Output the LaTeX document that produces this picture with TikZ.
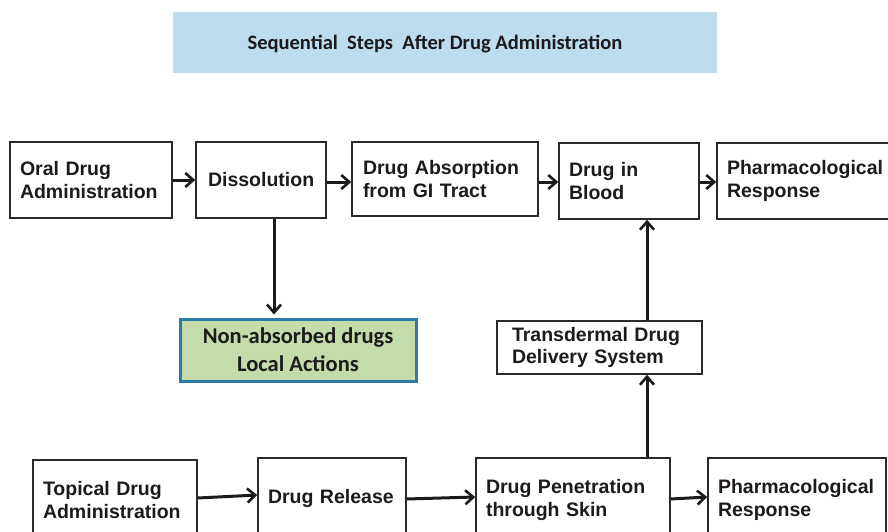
\documentclass[tikz,border=0pt]{standalone}
\usepackage{fontspec}
\setmainfont{Liberation Sans}
\newfontfamily\titlefont{Carlito}
\usetikzlibrary{arrows.meta}
\definecolor{ink}{HTML}{1E1A1B}
\definecolor{edge}{HTML}{2A2A2A}
\definecolor{titlebg}{HTML}{BCDDF0}
\definecolor{greenbg}{HTML}{C3DCA9}
\definecolor{greenedge}{HTML}{2B7BA3}
\begin{document}
\begin{tikzpicture}[x=1pt,y=-1pt,
  box/.style={draw=edge, line width=1.5pt, fill=white, text=ink,
    font=\bfseries\fontsize{19.5}{22.5}\selectfont, align=left, inner sep=0pt},
  titlebox/.style={fill=titlebg, inner sep=0pt},
  titletext/.style={text=ink, inner sep=0pt,
    font=\titlefont\bfseries\fontsize{20.5}{24}\selectfont},
  greenbox/.style={draw=greenedge, line width=3pt, fill=greenbg, text=ink, inner sep=0pt,
    align=center, font=\titlefont\bfseries\fontsize{22.5}{28}\selectfont},
  arr/.style={draw=ink, line width=3pt, -{Straight Barb[length=8pt,width=14pt,line width=2.6pt]}}
]
\useasboundingbox (0,0) rectangle (888,532);
\clip (0,0) rectangle (888,532);

\node[titlebox, minimum width=544pt, minimum height=61pt] (titlebg) at (445,42.5) {};
\node[titletext] (title) at (435,44.5)
  {Sequential\ \ Steps\ \ After Drug Administration};

\node[box, minimum width=162pt, minimum height=76pt, text width=142pt] (oral) at (91,180)
  {Oral Drug\\Administration};
\node[box, minimum width=130pt, minimum height=76pt, text width=106pt] (diss) at (261,180)
  {Dissolution};
\node[box, minimum width=186pt, minimum height=74pt, text width=164pt] (abs) at (445,179)
  {Drug Absorption\\from GI Tract};
\node[box, minimum width=140pt, minimum height=76pt, text width=120pt] (blood) at (629,181)
  {Drug in\\Blood};
\node[box, minimum width=180pt, minimum height=76pt, text width=160pt] (resp1) at (807,181)
  {Pharmacological\\Response};

\node[greenbox, minimum width=236pt, minimum height=62pt] (nonabs) at (298,350)
  {Non-absorbed drugs\\Local Actions};

\node[box, minimum width=205pt, minimum height=53pt, text width=175pt] (trans) at (599.5,347.5)
  {Transdermal Drug\\Delivery System};

\node[box, minimum width=164pt, minimum height=80pt, text width=144pt] (topical) at (115,500)
  {Topical Drug\\Administration};
\node[box, minimum width=148pt, minimum height=80pt, text width=128pt] (release) at (332,498)
  {Drug Release};
\node[box, minimum width=194pt, minimum height=84pt, text width=174pt] (pen) at (573,500)
  {Drug Penetration\\through Skin};
\node[box, minimum width=178pt, minimum height=84pt, text width=158pt] (resp2) at (797,500)
  {Pharmacological\\Response};

% top row arrows
\draw[arr] (oral.east) -- (oral.east -| diss.west);
\draw[arr] ([yshift=-2pt]diss.east) -- ([yshift=-2pt]diss.east -| abs.west);
\draw[arr] ([yshift=-3pt]abs.east) -- ([yshift=-3pt]abs.east -| blood.west);
\draw[arr] ([yshift=-1pt]blood.east) -- ([yshift=-1pt]blood.east -| resp1.west);

% dissolution down
\draw[arr, shorten >=3pt] ([xshift=13pt]diss.south) coordinate (d1) -- (d1 |- nonabs.north);

% transdermal up
\draw[arr] ([xshift=47.5pt]trans.north) coordinate (t1) -- (t1 |- blood.south);
\draw[arr] ([xshift=74pt]pen.north) coordinate (p1) -- (p1 |- trans.south);

% bottom row arrows
\draw[arr] ([yshift=2pt]topical.east) -- ([yshift=3pt]release.west);
\draw[arr] ([yshift=-1pt]release.east) -- ([yshift=3pt]pen.west);
\draw[arr] ([yshift=1pt]pen.east) -- ([yshift=3pt]resp2.west);
\end{tikzpicture}
\end{document}
